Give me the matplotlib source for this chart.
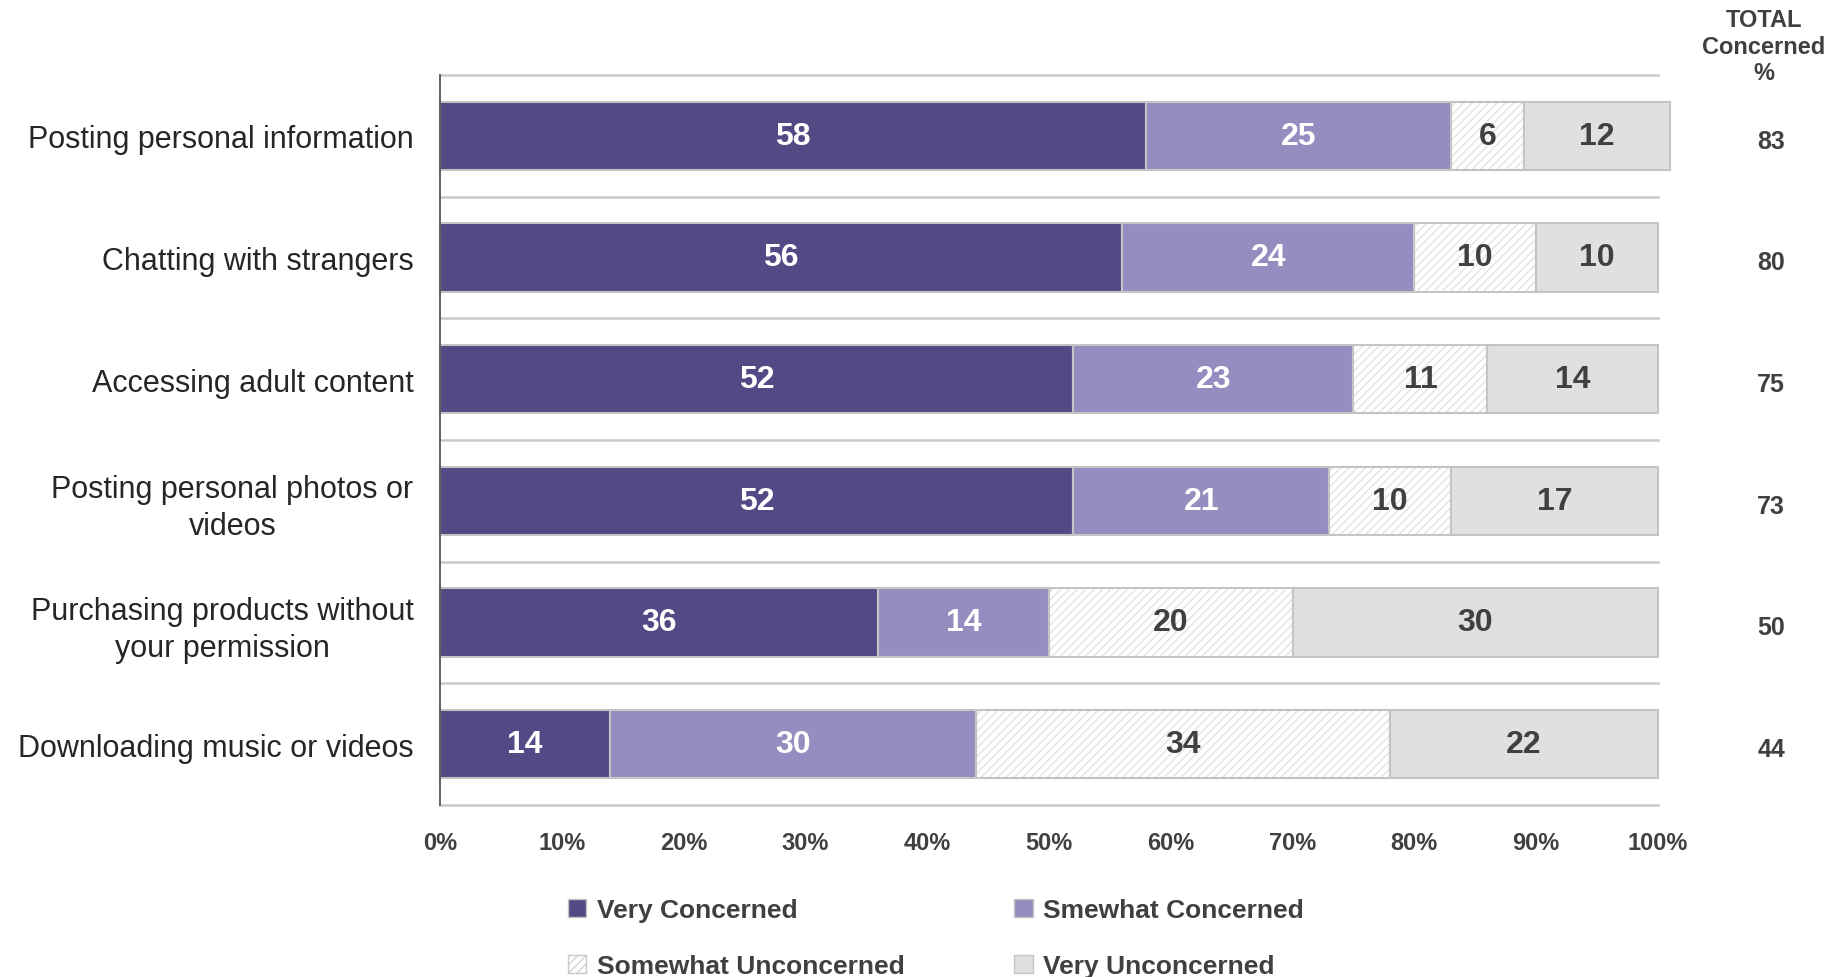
import numpy as np
import matplotlib.pyplot as plt
from matplotlib.patches import Patch
from matplotlib.transforms import blended_transform_factory

categories = ["Posting personal information", "Chatting with strangers",
              "Accessing adult content", "Posting personal photos or\nvideos",
              "Purchasing products without\nyour permission", "Downloading music or videos"]
very_concerned = [58, 56, 52, 52, 36, 14]
smewhat_concerned = [25, 24, 23, 21, 14, 30]
somewhat_unconcerned = [6, 10, 11, 10, 20, 34]
very_unconcerned = [12, 10, 14, 17, 30, 22]
total_concerned = [83, 80, 75, 73, 50, 44]
series_names = ["Very Concerned", "Smewhat Concerned", "Somewhat Unconcerned", "Very Unconcerned"]

colors_ = ["#524a84", "#948dbf", "#ffffff", "#e0e0e0"]
txt_colors = ["white", "white", "#404040", "#404040"]
edge = "#c4c4c4"
dark = "#404040"

plt.rcParams['font.family'] = ['Liberation Sans', 'DejaVu Sans']
plt.rcParams['hatch.linewidth'] = 0.8

fig = plt.figure(figsize=(18.44, 9.78), dpi=100)
ax = fig.add_axes([0.2386, 0.1759, 0.6605, 0.7464])

y = np.arange(len(categories))
series = [very_concerned, smewhat_concerned, somewhat_unconcerned, very_unconcerned]
left = np.zeros(len(categories))
h = 0.56
for i, vals in enumerate(series):
    vals = np.array(vals, dtype=float)
    if i == 2:
        ax.barh(y, vals, left=left, height=h, color="white", edgecolor="#dedede",
                hatch="////", linewidth=0, clip_on=False, zorder=2)
        ax.barh(y, vals, left=left, height=h, fill=False, edgecolor=edge,
                linewidth=1.5, clip_on=False, zorder=3)
    else:
        ax.barh(y, vals, left=left, height=h, color=colors_[i], edgecolor=edge,
                linewidth=1.5, clip_on=False, zorder=3)
    for yi, (l, v) in enumerate(zip(left, vals)):
        ax.text(l + v / 2, yi, f"{int(v)}", ha="center", va="center",
                fontsize=23, fontweight="bold", color=txt_colors[i], zorder=4)
    left += vals

ax.set_xlim(0, 100)
ax.set_ylim(len(categories) - 0.5, -0.5)
ax.set_yticks(y)
ax.set_yticklabels(categories, fontsize=22, color="#262626",
                   multialignment="center", linespacing=1.3)
ax.set_xticks(np.arange(0, 101, 10))
ax.set_xticklabels([f"{v}%" for v in range(0, 101, 10)],
                   fontsize=17, fontweight="bold", color=dark)
ax.tick_params(axis="y", length=0, pad=19)
ax.tick_params(axis="x", length=0, pad=19)

# separators between categories
for b in np.arange(-0.5, len(categories), 1.0):
    ax.axhline(b, color="#c8c8c8", linewidth=1.8, zorder=1, clip_on=False)

for s in ["top", "right", "bottom"]:
    ax.spines[s].set_visible(False)
ax.spines["left"].set_color("#555555")
ax.spines["left"].set_linewidth(1.3)
ax.spines["left"].set_zorder(5)

# totals column
tx = 1771 / 1844
trans = blended_transform_factory(fig.transFigure, ax.transData)
for yi, t in enumerate(total_concerned):
    ax.text(tx, yi + 0.04, f"{t}", transform=trans,
            ha="center", va="center", fontsize=18, fontweight="bold", color=dark)
fig.text(1764 / 1844, 1 - 47 / 978, "TOTAL\nConcerned\n%", ha="center", va="center",
         fontsize=17, fontweight="bold", color=dark, linespacing=1.2)

handles = [Patch(facecolor=colors_[0], edgecolor=edge),
           Patch(facecolor="white", edgecolor="#c8c8c8", hatch="////"),
           Patch(facecolor=colors_[1], edgecolor=edge),
           Patch(facecolor=colors_[3], edgecolor=edge)]
labels = [series_names[0], series_names[2], series_names[1], series_names[3]]
leg = fig.legend(handles, labels, ncol=2, loc="upper left",
                 bbox_to_anchor=(568 / 1844, 1 - 899 / 978), frameon=False,
                 handlelength=0.7, handleheight=0.7, handletextpad=0.4,
                 columnspacing=4.15, labelspacing=1.22, borderpad=0, borderaxespad=0,
                 prop={'weight': 'bold', 'size': 19})
for t in leg.get_texts():
    t.set_color(dark)

fig.savefig("out.png", dpi=100)
